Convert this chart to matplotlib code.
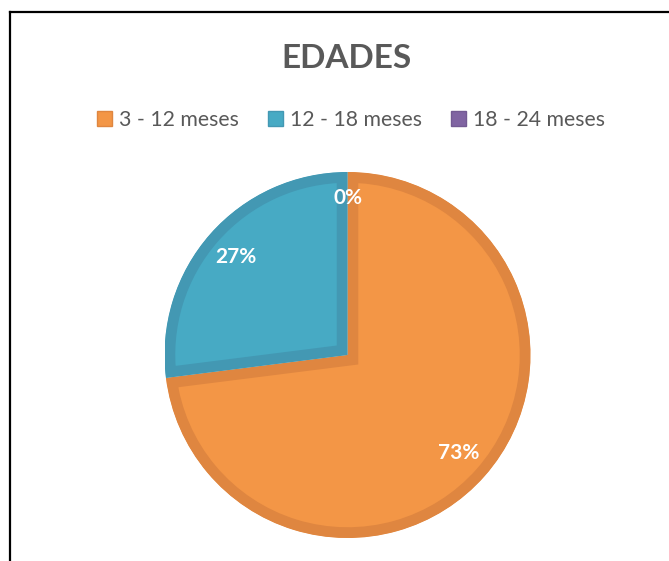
import matplotlib
matplotlib.use("Agg")
import matplotlib.pyplot as plt
from matplotlib.patches import Patch
from matplotlib.lines import Line2D

# data
categories = ["3 - 12 meses", "12 - 18 meses", "18 - 24 meses"]
shares = [73, 27, 0]
fill_colors = ["#F39646", "#47AAC4", "#8064A2"]
edge_colors = ["#DF8640", "#4398B3", "#735A93"]
title = "EDADES"

W, H = 669, 561
fig = plt.figure(figsize=(W / 100, H / 100), dpi=100)
fig.patch.set_facecolor("white")

# pie axes: center (347, 355) px, radius 183 px
cx, cy, r = 347.5, 355, 183
ax = fig.add_axes([(cx - r) / W, (H - cy - r) / H, 2 * r / W, 2 * r / H])

wedges, texts, autotexts = ax.pie(
    shares, colors=fill_colors, startangle=90, counterclock=False,
    autopct="%1.0f%%", pctdistance=0.81,
    wedgeprops=dict(linewidth=15.5, joinstyle="miter"),
    textprops=dict(color="white", fontsize=15, fontweight="bold", family="Lato"))
ax.set_xlim(-1, 1)
ax.set_ylim(-1, 1)
ax.set_aspect("equal")
for w, ec in zip(wedges, edge_colors):
    w.set_edgecolor(ec)
    # keep the stroke inside the slice (Excel style inner border)
    w.set_clip_on(True)
    w.set_clip_path(w)

# the 0% label sits a bit higher in the original
x0, y0 = autotexts[2].get_position()
autotexts[2].set_position((x0 / 0.81 * 0.86, y0 / 0.81 * 0.86))

fig.text(346 / W, 1 - 68 / H, title, ha="center", va="baseline",
         fontsize=24, fontweight="bold", color="#595959", family="Lato")

handles = [Patch(facecolor=f, edgecolor=e, linewidth=1) for f, e in zip(fill_colors, edge_colors)]
fig.legend(handles, categories, loc="center", bbox_to_anchor=(351 / W, 1 - 120 / H),
           ncol=3, frameon=False, handlelength=0.7, handleheight=0.7,
           handletextpad=0.3, columnspacing=1.4,
           prop=dict(family="Lato", size=15.3), labelcolor="#595959")

# chart border (only left and top visible in the crop)
fig.add_artist(Line2D([9.5 / W, 9.5 / W], [0, 1 - 11.5 / H], color="black", linewidth=1.6))
fig.add_artist(Line2D([9.5 / W, 1], [1 - 11.5 / H, 1 - 11.5 / H], color="black", linewidth=1.6))

fig.savefig("out.png", dpi=100)
